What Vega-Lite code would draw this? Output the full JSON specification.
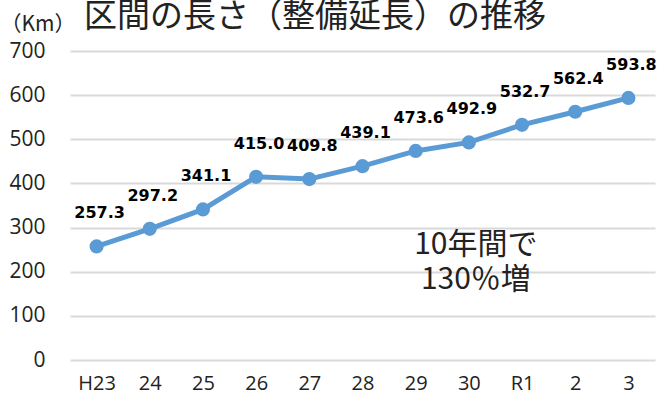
{
  "$schema": "https://vega.github.io/schema/vega-lite/v6.json",
  "width": 585,
  "height": 309,
  "autosize": {"type": "none"},
  "padding": {"left": 70, "top": 51, "right": 3, "bottom": 46},
  "background": "white",
  "title": {
    "text": "区間の長さ（整備延長）の推移",
    "font": "Noto Sans CJK JP",
    "fontSize": 33,
    "fontWeight": "normal",
    "color": "#222222",
    "anchor": "start",
    "frame": "group",
    "orient": "top",
    "baseline": "alphabetic",
    "dx": 14,
    "offset": -47
  },
  "datasets": {
    "lengths": [
      {"year": "H23", "km": 257.3},
      {"year": "24", "km": 297.2},
      {"year": "25", "km": 341.1},
      {"year": "26", "km": 415.0},
      {"year": "27", "km": 409.8},
      {"year": "28", "km": 439.1},
      {"year": "29", "km": 473.6},
      {"year": "30", "km": 492.9},
      {"year": "R1", "km": 532.7},
      {"year": "2", "km": 562.4},
      {"year": "3", "km": 593.8}
    ],
    "note": [
      {"year": "30", "km": 260, "label": "10年間で\n130％増"}
    ]
  },
  "config": {
    "view": {"stroke": null},
    "axis": {"labelColor": "#222222", "titleColor": "#222222"}
  },
  "layer": [
    {
      "data": {"name": "lengths"},
      "mark": {"type": "line", "color": "#5B9BD5", "strokeWidth": 5},
      "encoding": {
        "x": {
          "field": "year",
          "type": "ordinal",
          "sort": null,
          "axis": {
            "title": null,
            "labelAngle": 0,
            "labelFont": "Open Sans",
            "labelFontSize": 20,
            "labelPadding": 13,
            "ticks": false,
            "domain": false,
            "grid": false
          }
        },
        "y": {
          "field": "km",
          "type": "quantitative",
          "scale": {"domain": [0, 700], "nice": false},
          "axis": {
            "values": [0, 100, 200, 300, 400, 500, 600, 700],
            "title": "（Km）",
            "titleFont": "Noto Sans CJK JP",
            "titleFontSize": 21,
            "titleFontWeight": "normal",
            "titleAngle": 0,
            "titleAlign": "left",
            "titleBaseline": "alphabetic",
            "titleX": -70,
            "titleY": -21,
            "labelFont": "Open Sans",
            "labelFontSize": 21,
            "labelPadding": 25,
            "ticks": false,
            "domain": false,
            "grid": true,
            "gridColor": "#d9d9d9",
            "gridWidth": 2
          }
        }
      }
    },
    {
      "data": {"name": "lengths"},
      "mark": {"type": "point", "filled": true, "opacity": 1, "color": "#5B9BD5", "size": 200},
      "encoding": {
        "x": {"field": "year", "type": "ordinal", "sort": null},
        "y": {"field": "km", "type": "quantitative"}
      }
    },
    {
      "data": {"name": "lengths"},
      "mark": {"type": "text", "font": "DejaVu Sans", "fontWeight": "bold", "fontSize": 16, "color": "#000000", "dy": -33, "dx": 3, "baseline": "middle"},
      "encoding": {
        "x": {"field": "year", "type": "ordinal", "sort": null},
        "y": {"field": "km", "type": "quantitative"},
        "text": {"field": "km", "type": "quantitative", "format": ".1f"}
      }
    },
    {
      "data": {"name": "note"},
      "mark": {"type": "text", "font": "Noto Sans CJK JP", "fontSize": 30, "color": "#222222", "lineBreak": "\n", "lineHeight": 35, "baseline": "middle", "dx": 7},
      "encoding": {
        "x": {"field": "year", "type": "ordinal", "sort": null},
        "y": {"field": "km", "type": "quantitative"},
        "text": {"field": "label"}
      }
    }
  ]
}
